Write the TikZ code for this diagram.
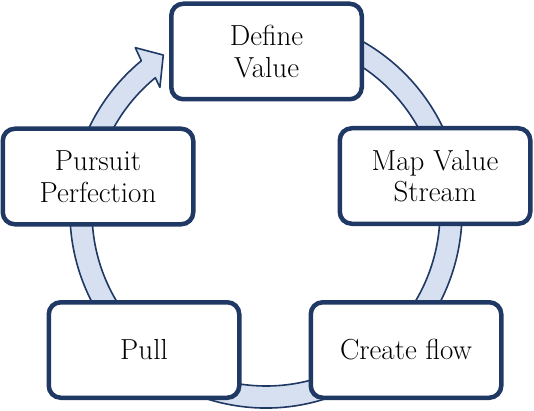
\documentclass[tikz,border=0pt]{standalone}
\definecolor{navy}{RGB}{32,56,100}
\definecolor{bandfill}{RGB}{214,224,240}
\begin{document}
\begin{tikzpicture}[x=1pt,y=1pt,
  stepbox/.style={draw=navy, line width=4.5pt, fill=white, rounded corners=12pt,
    minimum width=190.5pt, minimum height=95.5pt, align=center, inner sep=0pt,
    font=\fontsize{29}{31.5}\selectfont},
  band/.style={draw=navy, line width=1.6pt, fill=bandfill, line join=round}]
\useasboundingbox (0,0) rectangle (534,410);
\coordinate (c) at (266,198);
\path[band] ([shift={(c)}]75:196) arc[start angle=75,end angle=-230.5,radius=196]
  -- ([shift={(c)}]-231.5:210) -- ([shift={(c)}]-236.8:187.6)
  -- ([shift={(c)}]-229.6:163.7) -- ([shift={(c)}]-230.5:174)
  arc[start angle=-230.5,end angle=75,radius=174] -- cycle;
\node[stepbox] (define) at (266.5,358.5) {Define\\Value};
\node[stepbox] (map) at (435,234) {Map Value\\Stream};
\node[stepbox] (create) at (406,60) {Create flow};
\node[stepbox] (pull) at (144,60) {Pull};
\node[stepbox] (pursuit) at (98,233.5) {Pursuit\\Perfection};
\end{tikzpicture}
\end{document}
